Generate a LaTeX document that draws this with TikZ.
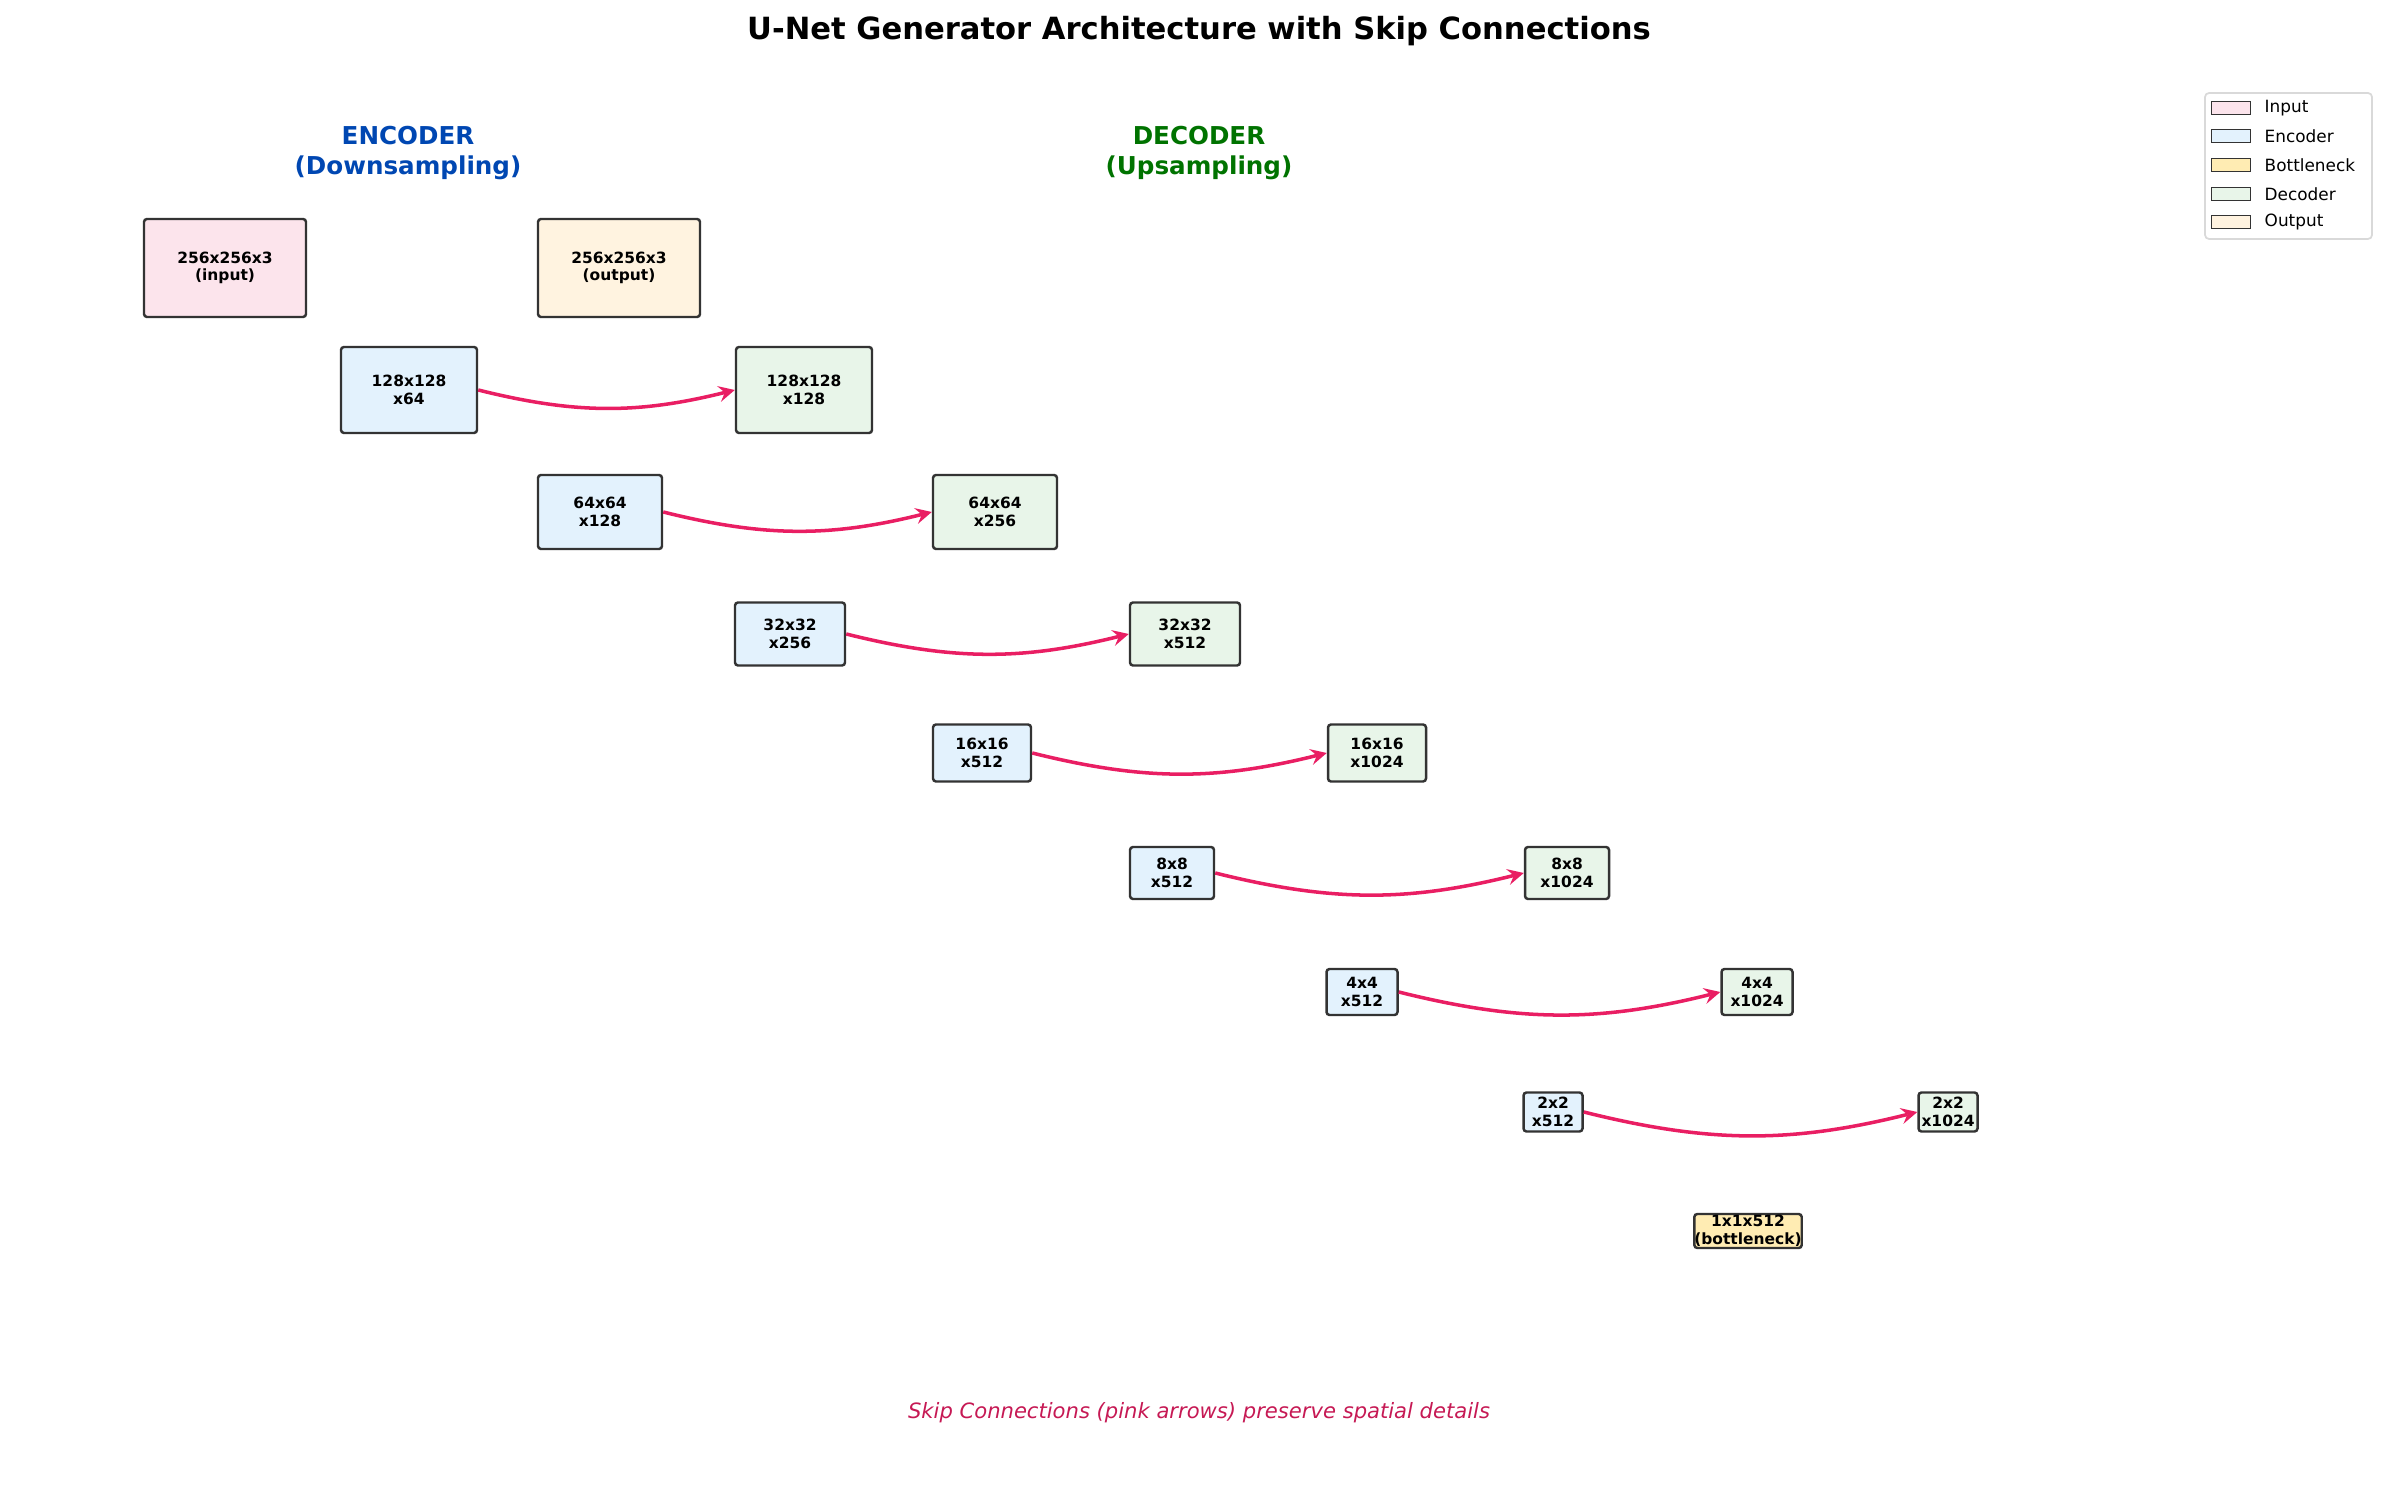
\documentclass[tikz,border=0pt]{standalone}
\usepackage{fontspec}
\setmainfont{DejaVu Sans}
\usetikzlibrary{positioning}
\definecolor{inputColor}{HTML}{FCE4EC}
\definecolor{encoderColor}{HTML}{E3F2FD}
\definecolor{bottleColor}{HTML}{FFECB3}
\definecolor{decoderColor}{HTML}{E8F5E9}
\definecolor{outputColor}{HTML}{FFF3E0}
\definecolor{edgeColor}{HTML}{333333}
\definecolor{skipColor}{HTML}{E91E63}
\tikzstyle{unet} = [x = .01cm, y = -.01cm]
\tikzstyle{layerStyle} = [draw=edgeColor, line width=.7pt, rounded corners=.03cm, inner sep=0pt, align=center, font=\fontsize{4.4}{5}\selectfont\bfseries]
\tikzstyle{skipStyle} = [draw=skipColor, line width=1pt, -stealth, bend right=14]
\tikzstyle{legendPatch} = [draw=edgeColor, line width=.5pt, minimum width=.39cm, minimum height=.13cm, inner sep=0pt]
\tikzstyle{legendText} = [anchor=west, inner sep=0pt, font=\fontsize{4.8}{5}\selectfont]
\newcommand{\layerBox}[7]{\node [layerStyle, fill=#7, minimum width=#4*.01cm, minimum height=#5*.01cm] (#1) at (#2,#3) {#6};}

\begin{document}
\begin{tikzpicture}[unet]
  \useasboundingbox (0,0) rectangle (2385,1486);
  \node [font=\fontsize{8.7}{10}\selectfont\bfseries] (title) at (1199,31) {U-Net Generator Architecture with Skip Connections};
  \node [align=center, text=encoderColor!20!blue!60!black, font=\fontsize{7}{8.5}\selectfont\bfseries, text=blue!60!cyan!70!black] (encLabel) at (408,153) {ENCODER\\(Downsampling)};
  \node [align=center, font=\fontsize{7}{8.5}\selectfont\bfseries, text=green!45!black] (decLabel) at (1199,153) {DECODER\\(Upsampling)};

  % input, output and bottleneck
  \layerBox{inp}{225}{268}{162}{98}{256x256x3\\(input)}{inputColor}
  \layerBox{out}{619}{268}{162}{98}{256x256x3\\(output)}{outputColor}
  \layerBox{bottle}{1748}{1231}{52}{34}{1x1x512\\(bottleneck)}{bottleColor}

  % encoder and decoder levels with skips
  \foreach \i/\cx/\cy/\w/\h/\res/\ech/\dch in {
      1/409/390/136/86/128x128/x64/x128,
      2/600/512/124/74/64x64/x128/x256,
      3/790/634/110/63/32x32/x256/x512,
      4/982/753/98/57/16x16/x512/x1024,
      5/1172/873/84/52/8x8/x512/x1024,
      6/1362/992/71/46/4x4/x512/x1024,
      7/1553/1112/59/39/2x2/x512/x1024} {
    \pgfmathsetmacro{\dx}{\cx + 395}
    \layerBox{enc\i}{\cx}{\cy}{\w}{\h}{\res\\\ech}{encoderColor}
    \layerBox{dec\i}{\dx}{\cy}{\w}{\h}{\res\\\dch}{decoderColor}
    \draw [skipStyle] (enc\i.east) to (dec\i.west);
  }

  \node [font=\fontsize{6}{7}\selectfont\itshape, text=skipColor!85!black] (footer) at (1199,1413) {Skip Connections (pink arrows) preserve spatial details};

  % legend
  \draw [draw=black!15, line width=.5pt, rounded corners=.04cm, fill=white] (2205,93) rectangle (2372,239);
  \foreach \n/\c/\t/\y in {1/inputColor/Input/108, 2/encoderColor/Encoder/136, 3/bottleColor/Bottleneck/165, 4/decoderColor/Decoder/194, 5/outputColor/Output/222} {
    \node [legendPatch, fill=\c] (patch\n) at (2231,\y) {};
    \node [legendText] (entry\n) at (2264,\y) {\t};
  }
\end{tikzpicture}
\end{document}
